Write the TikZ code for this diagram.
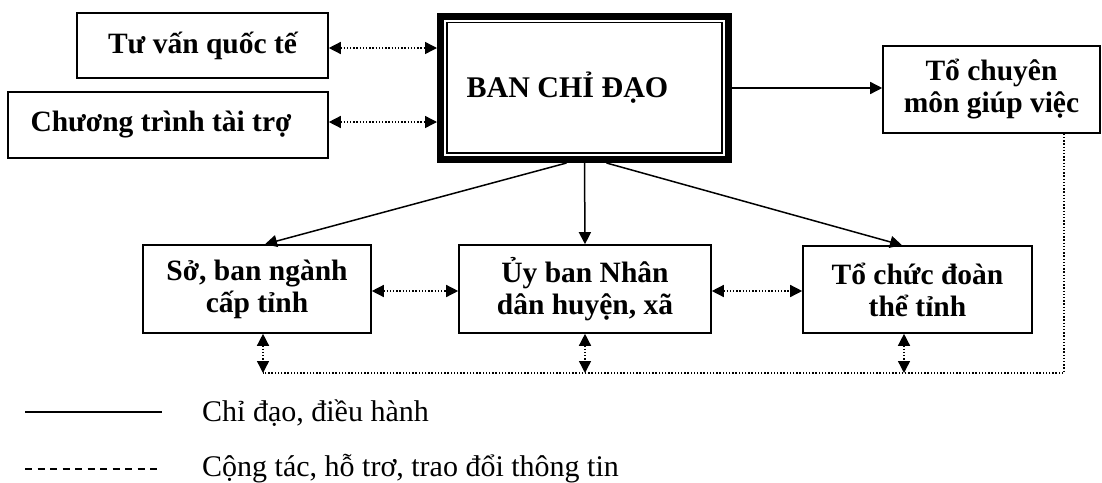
\documentclass[tikz,border=0pt]{standalone}
\usepackage{fontspec}
\setmainfont{Liberation Serif}
\usetikzlibrary{arrows.meta}
\tikzset{
  box/.style={draw, line width=1.6pt, font=\fontsize{29.5}{32}\selectfont\bfseries, align=center, inner sep=0pt},
  tip/.style={-{Triangle[length=12pt,width=12pt]}},
  solidarr/.style={line width=1.5pt, tip},
  dotline/.style={line width=1.4pt, dash pattern=on 1.4pt off 1.8pt},
  dotarr/.style={dotline, {Triangle[length=12pt,width=12pt]}-{Triangle[length=12pt,width=12pt]}},
  legtext/.style={font=\fontsize{30}{33}\selectfont, anchor=base west, inner sep=0pt}
}
\begin{document}
\begin{tikzpicture}[x=1pt,y=-1pt]
\useasboundingbox (0,0) rectangle (1102,482);
% boxes
\node[box, minimum width=251pt, minimum height=65pt] (tv) at (202.5,45.5) {Tư vấn quốc tế};
\node[box, minimum width=320pt, minimum height=66pt] (ct) at (168,125) {Chương trình tài trợ\hspace*{14pt}};
\node[draw, line width=7pt, minimum width=288pt, minimum height=143pt, font=\fontsize{30}{33}\selectfont\bfseries, inner sep=0pt] (ban) at (584.5,88) {BAN CHỈ ĐẠO\hspace*{34pt}};
\draw[line width=1.5pt] ([xshift=10pt,yshift=-9.5pt]ban.north west) rectangle ([xshift=-10pt,yshift=10pt]ban.south east);
\node[box, minimum width=217pt, minimum height=87pt] (tc) at (991.5,89.5) {Tổ chuyên\\môn giúp việc};
\node[box, minimum width=228pt, minimum height=88pt] (so) at (257,289) {Sở, ban ngành\\cấp tỉnh};
\node[box, minimum width=252pt, minimum height=88pt] (ub) at (585,289) {Ủy ban Nhân\\dân huyện, xã};
\node[box, minimum width=229pt, minimum height=87pt] (tch) at (917.5,289.5) {Tổ chức đoàn\\thể tỉnh};
% solid arrows
\draw[solidarr] (ban.east) -- (ban.east -| tc.west);
\draw[solidarr] ([xshift=-18pt]ban.south) -- ([xshift=8pt]so.north);
\draw[solidarr] (ban.south) -- (ub.north);
\draw[solidarr] ([xshift=22pt]ban.south) -- ([xshift=-15.5pt]tch.north);
% dotted double arrows
\draw[dotarr] ([yshift=-2.5pt]tv.east) -- ([yshift=-2.5pt]tv.east -| ban.west);
\draw[dotarr] ([yshift=3pt]ct.east) -- ([yshift=3pt]ct.east -| ban.west);
\draw[dotarr] ([yshift=-2pt]so.east) -- ([yshift=-2pt]so.east -| ub.west);
\draw[dotarr] ([yshift=-2pt]ub.east) -- ([yshift=-2pt]ub.east -| tch.west);
% bottom bus
\coordinate (bl) at (263,373);
\coordinate (br) at (1064,373);
\draw[dotline] (tc.south -| br) -- (br) -- (bl);
\draw[dotarr] ([xshift=6pt]so.south) -- ([xshift=6pt]so.south |- bl);
\draw[dotarr] (ub.south) -- (ub.south |- bl);
\draw[dotarr] ([xshift=-13.5pt]tch.south) -- ([xshift=-13.5pt]tch.south |- bl);
% legend
\coordinate (la) at (25,412);
\coordinate (lb) at (162,412);
\coordinate (lc) at (25,469);
\coordinate (ld) at (162,469);
\draw[line width=1.5pt] (la) -- (lb);
\draw[line width=1.3pt, dash pattern=on 7pt off 5.5pt] (lc) -- (ld);
\node[legtext] (t1) at (202,421) {Chỉ đạo, điều hành};
\node[legtext] (t2) at (202,476) {Cộng tác, hỗ trơ, trao đổi thông tin};
\end{tikzpicture}
\end{document}
